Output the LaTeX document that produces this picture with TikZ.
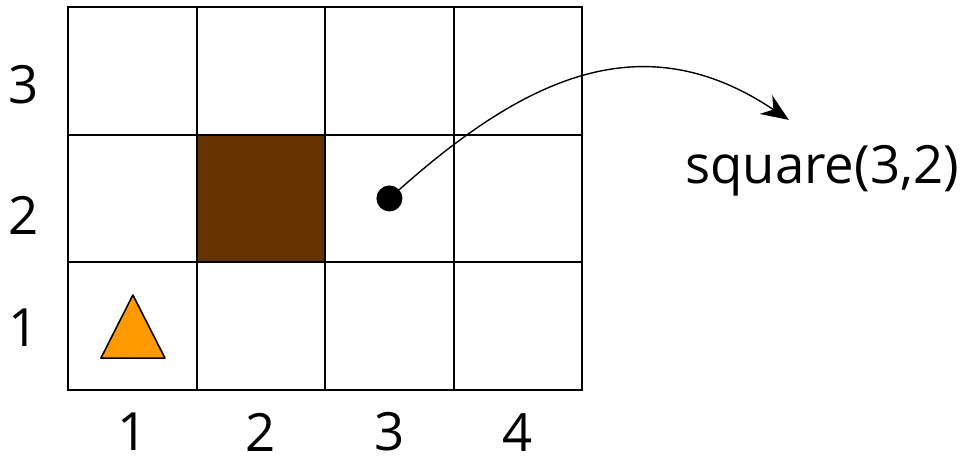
\documentclass[tikz,border=0pt]{standalone}
\usepackage{fontspec}
\setmainfont{Open Sans}
\usepackage{xcolor}
\usepackage{tikz}
\usetikzlibrary{arrows.meta, positioning, calc}
\definecolor{cBrown}{RGB}{102,51,0}
\definecolor{cOrange}{RGB}{255,153,0}
\tikzset{
	gridline/.style ={draw=black, line width=1.1pt, line cap=rect},
	lbl/.style      ={font=\fontsize{30}{36}\selectfont, inner sep=0pt},
	agent/.style    ={draw=black, line width=0.9pt, fill=cOrange, line join=round},
	obstacle/.style ={fill=cBrown},
	dot/.style      ={circle, fill=black, minimum size=0.52cm, inner sep=0pt},
	pointer/.style  ={-{Stealth[length=5.5mm, width=4.5mm, inset=1.8mm]}, line width=0.8pt},
}

\begin{document}
\begin{tikzpicture}[x=2.568cm, y=2.554cm]
	\useasboundingbox (-0.533,-0.540) rectangle (6.99,3.054);
	% blocked square
	\fill[obstacle] (1,1) rectangle (2,2);
	% the board
	\foreach \c in {0,...,4}
		\draw[gridline] (\c,0) -- (\c,3);
	\foreach \r in {0,...,3}
		\draw[gridline] (0,\r) -- (4,\r);
	% agent
	\draw[agent] (0.253,0.25) -- (0.752,0.25) -- (0.502,0.744) -- cycle;
	% axis labels
	\foreach \i in {1,...,4}
		\node[lbl] (col\i) at (\i-0.5,-0.33) {\i};
	\node[lbl] (row1) at (-0.347,0.49) {1};
	\node[lbl] (row2) at (-0.347,1.37) {2};
	\node[lbl] (row3) at (-0.347,2.39) {3};
	% square(3,2)
	\node[dot] (sq) at (2.5,1.5) {};
	\node[lbl] (name) at (5.87,1.72) {square(3,2)};
	\coordinate (tip) at (5.61,2.115);
	\draw[pointer] (sq.center) .. controls (3.516,2.428) and (4.451,2.897) .. (tip);
\end{tikzpicture}
\end{document}
